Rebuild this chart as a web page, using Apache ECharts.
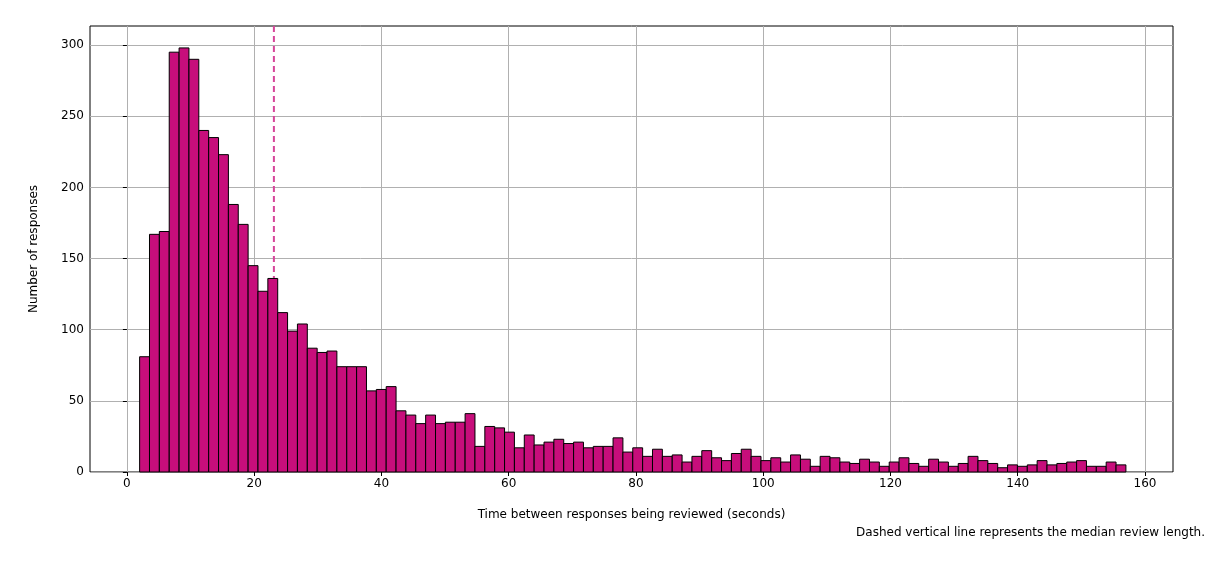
<!DOCTYPE html>
<html><head><meta charset="utf-8">
<script src="https://cdn.jsdelivr.net/npm/echarts@6/dist/echarts.min.js"></script>
<style>html,body{margin:0;padding:0;background:#fff}#c{width:1224px;height:572px}</style>
</head><body><div id="c"></div>
<script>
const binStart = 2.0;
const binWidth = 1.55;
const counts = [81,167,169,295,298,290,240,235,223,188,174,145,127,136,112,99,104,87,84,85,
74,74,74,57,58,60,43,40,34,40,34,35,35,41,18,32,31,28,17,26,
19,21,23,20,21,17,18,18,24,14,17,11,16,11,12,7,11,15,10,8,
13,16,11,8,10,7,12,9,4,11,10,7,6,9,7,4,7,10,6,4,
9,7,4,6,11,8,6,3,5,4,5,8,5,6,7,8,4,4,7,5];
const median = 23.1;
const xTicks = [0,20,40,60,80,100,120,140,160];
const yTicks = [0,50,100,150,200,250,300];

const data = counts.map((c,i)=>[binStart+i*binWidth, binStart+(i+1)*binWidth, c]);
const font = 'DejaVu Sans';
const chart = echarts.init(document.getElementById('c'), null, {renderer:'canvas'});
chart.setOption({
  animation:false,
  grid:{left:90,right:51,top:26,bottom:100,show:true,borderColor:'#000',borderWidth:1},
  xAxis:{type:'value',min:-5.8,max:164.4,
    axisLine:{show:false},axisTick:{show:true,customValues:xTicks,length:4,lineStyle:{color:'#000'}},
    axisLabel:{customValues:xTicks,color:'#000',fontFamily:font,fontSize:12,margin:6},
    splitLine:{show:true,lineStyle:{color:'#b0b0b0',width:1}},
    name:'Time between responses being reviewed (seconds)',nameLocation:'middle',nameGap:37,
    nameTextStyle:{color:'#000',fontFamily:font,fontSize:12}},
  yAxis:{type:'value',min:0,max:313.4,
    axisLine:{show:false},axisTick:{show:true,customValues:yTicks,length:4,lineStyle:{color:'#000'}},
    axisLabel:{customValues:yTicks,color:'#000',fontFamily:font,fontSize:12,margin:6},
    splitLine:{show:true,lineStyle:{color:'#b0b0b0',width:1}},
    name:'Number of responses',nameLocation:'middle',nameGap:50,
    nameTextStyle:{color:'#000',fontFamily:font,fontSize:12}},
  graphic:[{type:'text',right:19,top:527,style:{text:'Dashed vertical line represents the median review length.',
    fill:'#000',font:'12px "DejaVu Sans"'}}],
  series:[
    {type:'line',z:1,data:[[median,0],[median,313.4]],symbol:'none',
     lineStyle:{color:'#d6459a',width:2,type:[6,4]}},
    {type:'custom',z:2,data:data,
     renderItem:(p,api)=>{
       const a=api.coord([api.value(0),api.value(2)]);
       const b=api.coord([api.value(1),0]);
       return {type:'rect',shape:{x:a[0],y:a[1],width:b[0]-a[0],height:b[1]-a[1]},
         style:{fill:'#c70e7b',stroke:'#000',lineWidth:1}};
     }}
  ]
});
</script></body></html>
